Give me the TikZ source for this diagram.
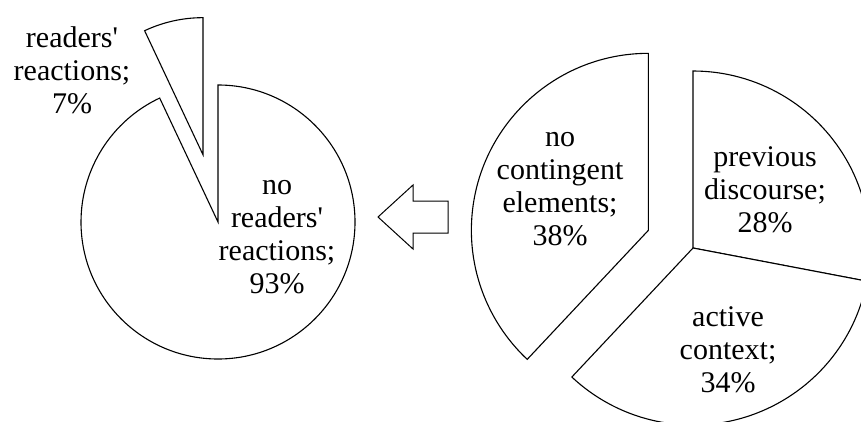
\documentclass[tikz,border=0pt]{standalone}
\usepackage{fontspec}
\setmainfont{Liberation Serif}
\usetikzlibrary{calc}
\begin{document}
\begin{tikzpicture}[x=1pt,y=1pt,
  slice/.style={draw=black,line width=1.1pt,fill=white,line join=miter},
  lbl/.style={align=center,inner sep=0pt,font=\fontsize{30}{33}\selectfont}]
\useasboundingbox (0,0) rectangle (861,421);
\clip (0,0) rectangle (861,421);

% left pie: readers' reactions
\coordinate (cL) at (218,199);
\coordinate (aL) at ($(cL)+(102.6:69)$);
\draw[slice] (cL) -- ($(cL)+(90:137)$)
  arc[start angle=90,end angle=-244.8,radius=137] -- cycle;
\draw[slice] (aL) -- ($(aL)+(90:137)$)
  arc[start angle=90,end angle=115.2,radius=137] -- cycle;
\node[lbl] (l7) at (72,351) {readers\textquotesingle\\reactions;\\7\%};
\node[lbl] (l93) at (277,184) {no\\readers\textquotesingle\\reactions;\\93\%};

% hollow arrow pointing left
\draw[line width=1pt,fill=white,line join=miter]
  (378,204) -- (413,236) -- (413,220) -- (448,220)
  -- (448,188) -- (413,188) -- (413,172) -- cycle;

% right pie: contingent elements
\coordinate (cR) at (693,173);
\coordinate (aR) at ($(cR)+(158.4:48)$);
\draw[slice] (cR) -- ($(cR)+(90:177)$)
  arc[start angle=90,end angle=-10.8,radius=177] -- cycle;
\draw[slice] (cR) -- ($(cR)+(-10.8:177)$)
  arc[start angle=-10.8,end angle=-133.2,radius=177] -- cycle;
\draw[slice] (aR) -- ($(aR)+(90:177)$)
  arc[start angle=90,end angle=226.8,radius=177] -- cycle;
\node[lbl] (l38) at (560,232) {no\\contingent\\elements;\\38\%};
\node[lbl] (l28) at (765,231) {previous\\discourse;\\28\%};
\node[lbl] (l34) at (728,71) {active\\context;\\34\%};
\end{tikzpicture}
\end{document}
